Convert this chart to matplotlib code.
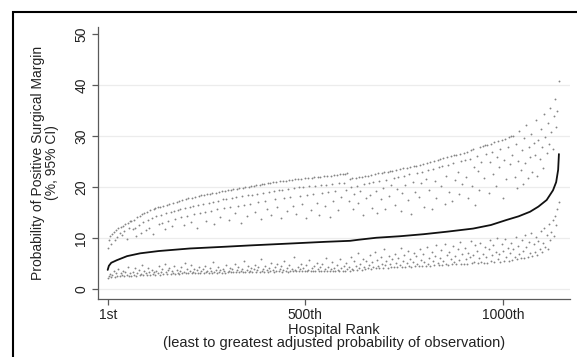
import numpy as np
import matplotlib
matplotlib.use("Agg")
import matplotlib.pyplot as plt
from matplotlib.patches import Rectangle

plt.rcParams["font.family"] = ["Liberation Sans", "DejaVu Sans"]

# Adjusted probability (%) for each hospital, by rank (line through the point estimates)
est_rank = [1, 4, 10, 24, 50, 83, 130, 209, 300, 361, 470, 550, 614, 634, 680, 740,
            800, 860, 925, 970, 1010, 1040, 1069, 1090, 1111, 1127, 1135, 1140, 1142]
est_value = [3.8, 4.6, 5.2, 5.7, 6.5, 7.05, 7.5, 8.0, 8.35, 8.6, 9.0, 9.3, 9.5, 9.7, 10.1, 10.4,
             10.8, 11.3, 11.9, 12.6, 13.6, 14.3, 15.2, 16.2, 17.5, 19.4, 21.0, 23.4, 26.5]

# Hospitals shown with their 95% CI bounds (every third rank)
ci_rank = list(range(1, 1142, 3))

ci_upper = [
    8.0, 9.6, 10.4, 8.9, 10.9, 11.3, 9.7, 11.6, 10.2, 12.0, 11.1, 12.3, 10.6, 12.4, 11.5, 12.8, 9.8, 13.0, 12.0, 13.3,
    13.4, 11.9, 13.6, 12.1, 10.5, 14.1, 12.6, 14.4, 11.0, 14.7, 13.1, 14.9, 11.6, 15.1, 13.6, 12.0, 15.5, 14.0, 10.9, 15.8,
    15.9, 14.3, 16.1, 12.8, 16.2, 14.6, 13.0, 16.4, 11.9, 14.9, 16.6, 13.3, 16.8, 15.2, 12.4, 17.0, 15.4, 13.7, 17.2, 15.6,
    17.3, 15.7, 14.1, 17.5, 12.6, 15.9, 17.6, 14.4, 17.8, 16.1, 13.2, 17.9, 16.3, 14.7, 18.1, 12.1, 16.5, 18.2, 14.9, 18.4,
    16.8, 18.5, 15.2, 13.4, 18.6, 17.0, 18.7, 15.4, 18.8, 17.2, 12.8, 18.9, 15.7, 17.4, 19.1, 14.1, 19.2, 17.6, 16.0, 19.3,
    17.7, 19.4, 13.6, 16.2, 19.5, 17.9, 19.6, 15.0, 18.0, 19.7, 16.4, 19.8, 12.9, 18.2, 19.9, 16.6, 20.0, 14.3, 18.4, 20.1,
    16.8, 20.2, 18.5, 20.3, 15.2, 20.4, 18.7, 17.1, 20.5, 13.8, 20.6, 18.9, 20.7, 17.3, 15.8, 20.8, 19.1, 20.9, 14.5, 21.0,
    19.3, 17.6, 21.1, 16.1, 19.4, 21.2, 13.9, 19.5, 21.3, 17.8, 21.3, 15.3, 19.7, 21.4, 18.0, 21.5, 16.4, 19.8, 21.6, 14.8,
    21.7, 20.0, 18.2, 21.7, 16.7, 20.1, 21.8, 13.9, 18.4, 21.9, 20.2, 15.6, 21.9, 18.6, 22.0, 20.3, 17.0, 22.0, 14.6, 22.1,
    20.4, 18.8, 22.2, 16.3, 20.5, 22.2, 19.0, 14.2, 22.3, 20.6, 17.3, 22.4, 19.2, 22.4, 15.5, 20.8, 22.5, 18.1, 22.6, 20.9,
    22.6, 19.5, 22.7, 17.4, 21.7, 20.1, 21.8, 15.8, 18.6, 21.9, 20.3, 16.9, 22.0, 19.2, 22.1, 14.6, 20.6, 22.2, 17.8, 22.3,
    20.8, 18.4, 22.4, 16.0, 21.0, 22.6, 19.3, 14.9, 22.7, 21.2, 17.6, 22.8, 19.9, 22.9, 15.7, 21.5, 23.0, 18.2, 23.1, 20.5,
    23.2, 21.8, 16.6, 23.4, 19.7, 22.0, 23.5, 15.3, 18.9, 23.7, 22.3, 20.4, 23.8, 17.5, 22.5, 24.0, 14.8, 21.1, 24.1, 19.0,
    24.2, 22.8, 18.0, 24.4, 20.9, 23.0, 24.6, 16.2, 21.6, 24.8, 23.3, 19.4, 25.0, 15.7, 23.6, 25.1, 21.3, 17.9, 25.3, 23.9,
    25.5, 20.2, 24.1, 25.7, 16.8, 22.3, 25.9, 24.4, 19.0, 26.1, 17.4, 24.7, 26.3, 21.5, 26.4, 23.0, 18.6, 26.6, 25.1, 20.7,
    26.8, 25.3, 22.1, 27.0, 17.9, 25.6, 27.3, 20.3, 27.5, 24.0, 16.6, 26.2, 23.1, 19.4, 27.9, 25.0, 28.0, 21.8, 28.2, 26.6,
    28.3, 18.8, 24.9, 28.5, 27.0, 22.6, 28.8, 20.2, 26.0, 29.0, 23.9, 27.5, 29.2, 17.9, 25.4, 29.5, 21.7, 27.9, 29.8, 24.5,
    30.0, 26.3, 30.1, 22.0, 28.4, 19.8, 25.1, 31.0, 23.4, 27.3, 20.6, 29.6, 24.8, 32.2, 21.9, 27.8, 25.9, 30.4, 23.0, 28.7,
    26.4, 33.1, 22.3, 29.3, 25.6, 31.5, 27.9, 23.8, 34.4, 29.9, 26.7, 32.6, 28.4, 35.6, 30.8, 27.4, 33.9, 37.3, 31.8, 35.0,
    40.8,
]

ci_lower = [
    2.2, 2.6, 3.0, 2.4, 2.9, 3.5, 2.5, 3.1, 2.7, 4.0, 2.6, 3.2, 2.9, 3.6, 2.6, 3.3, 2.8, 4.4, 2.7, 3.1,
    2.7, 3.4, 2.9, 4.1, 2.7, 3.2, 3.7, 2.8, 3.0, 4.8, 2.8, 3.5, 3.1, 2.8, 4.2, 3.3, 2.9, 3.8, 3.0, 3.4,
    2.9, 3.6, 3.1, 4.5, 2.9, 3.3, 3.9, 3.0, 5.0, 3.4, 3.0, 3.7, 4.2, 3.0, 3.5, 3.1, 4.6, 3.0, 3.8, 3.2,
    3.0, 3.6, 4.3, 3.1, 3.4, 5.1, 3.1, 3.9, 3.2, 3.6, 4.7, 3.1, 3.4, 4.0, 3.1, 3.7, 3.2, 4.4, 3.1, 3.5,
    3.9, 3.2, 4.6, 3.3, 3.6, 3.2, 4.2, 3.5, 3.2, 5.3, 3.4, 3.8, 3.2, 4.4, 3.3, 3.7, 3.2, 4.0, 3.5, 3.2,
    4.7, 3.3, 3.6, 4.1, 3.3, 3.9, 3.4, 5.0, 3.3, 3.7, 4.3, 3.3, 3.5, 4.0, 3.4, 5.6, 3.3, 3.8, 4.5, 3.4,
    3.6, 4.2, 3.4, 3.9, 4.8, 3.4, 3.7, 4.4, 3.4, 6.0, 3.5, 4.0, 3.4, 4.6, 3.7, 3.4, 4.2, 3.5, 5.2, 3.8,
    3.4, 4.3, 3.6, 4.9, 3.5, 3.9, 4.5, 3.4, 3.7, 5.5, 3.5, 4.1, 3.4, 4.7, 3.6, 4.0, 3.5, 6.3, 3.8, 3.5,
    4.4, 3.5, 3.9, 5.0, 3.5, 4.2, 3.6, 4.8, 3.5, 3.8, 5.7, 3.5, 4.1, 3.6, 4.5, 3.5, 5.2, 3.9, 3.5, 4.3,
    3.6, 4.9, 3.5, 4.0, 6.1, 3.6, 4.4, 3.5, 3.9, 5.4, 3.6, 4.2, 3.5, 4.7, 3.8, 3.6, 5.9, 4.1, 3.6, 4.5,
    3.6, 5.1, 3.9, 4.3, 3.6, 6.4, 4.0, 3.7, 5.5, 4.6, 3.8, 7.1, 4.2, 5.0, 3.8, 6.0, 4.4, 3.9, 5.6, 4.1,
    4.8, 6.7, 4.0, 5.3, 4.4, 7.4, 4.1, 5.8, 4.6, 4.1, 6.3, 5.0, 4.2, 7.8, 4.7, 5.5, 4.2, 6.6, 4.9, 4.3,
    5.9, 4.3, 7.0, 5.2, 4.3, 6.2, 4.8, 8.0, 4.4, 5.6, 6.8, 4.4, 5.1, 7.5, 4.6, 6.0, 4.4, 5.4, 7.2, 4.5,
    6.5, 5.0, 4.5, 7.9, 5.7, 4.6, 6.9, 5.3, 4.6, 8.3, 5.0, 6.1, 4.6, 7.3, 5.5, 4.7, 6.6, 8.6, 5.2, 4.7,
    6.2, 7.7, 4.8, 5.6, 8.9, 5.0, 6.8, 4.8, 7.4, 5.9, 4.9, 8.4, 5.4, 6.5, 4.9, 7.8, 5.7, 9.2, 5.0, 6.9,
    4.9, 8.1, 5.9, 5.0, 7.2, 6.4, 9.5, 5.1, 6.8, 5.3, 8.6, 7.6, 5.1, 6.1, 9.0, 5.4, 7.0, 5.2, 8.3, 6.3,
    5.2, 7.8, 9.6, 5.6, 6.7, 8.6, 5.3, 7.3, 10.0, 5.9, 6.9, 5.4, 8.9, 7.5, 5.6, 9.8, 6.3, 8.1, 5.6, 7.1,
    9.1, 5.8, 7.8, 6.4, 10.3, 5.9, 8.5, 7.0, 6.1, 9.6, 7.6, 6.2, 10.7, 8.2, 6.4, 9.2, 7.1, 11.0, 6.6, 8.8,
    7.4, 10.2, 6.8, 9.5, 7.9, 11.4, 7.3, 9.0, 12.1, 8.2, 10.6, 7.9, 12.8, 9.6, 11.2, 13.5, 10.4, 14.3, 12.6, 15.8,
    17.2,
]

# Axis ticks
x_ticks = [1, 500, 1000]
x_tick_labels = ["1st", "500th", "1000th"]
y_ticks = [0, 10, 20, 30, 40, 50]

W, H = 577, 357
fig = plt.figure(figsize=(W / 100, H / 100), dpi=100)
fig.patch.set_facecolor("white")

# Plot region in pixel coordinates
left_px, right_px, top_px, bottom_px = 98, 570, 27, 299
ax = fig.add_axes([left_px / W, 1 - bottom_px / H,
                   (right_px - left_px) / W, (bottom_px - top_px) / H])

ax.set_xlim(-23.5, 1170)
ax.set_ylim(-1.9, 51.4)

# Light horizontal grid
for yv in y_ticks[:-1]:
    ax.axhline(yv, color="#ececec", lw=0.9, zorder=0)

# CI bounds as fine grey dots
ax.scatter(ci_rank, ci_upper, s=1.8, color="#858585", linewidths=0, zorder=2)
ax.scatter(ci_rank, ci_lower, s=1.8, color="#858585", linewidths=0, zorder=2)

# Point estimates
ax.plot(est_rank, est_value, color="#111111", lw=1.3, solid_capstyle="round", zorder=3)

# Axes styling
for side in ("top", "right"):
    ax.spines[side].set_visible(False)
for side in ("left", "bottom"):
    ax.spines[side].set_color("#5a5a5a")
    ax.spines[side].set_linewidth(0.9)

ax.set_xticks(x_ticks)
ax.set_xticklabels(x_tick_labels)
ax.set_yticks(y_ticks)
ax.set_yticklabels([str(v) for v in y_ticks], rotation=90, va="center")
ax.tick_params(axis="both", colors="#5a5a5a", labelcolor="#222222",
               length=4, width=0.9, labelsize=10)
ax.tick_params(axis="x", pad=2.5)
ax.tick_params(axis="y", pad=3)

# Axis titles
fig.text(334 / W, 1 - 330 / H, "Hospital Rank", ha="center", va="center",
         fontsize=10.5, color="#222222")
fig.text(334 / W, 1 - 342.5 / H,
         "(least to greatest adjusted probability of observation)",
         ha="center", va="center", fontsize=10.5, color="#222222")
fig.text(38 / W, 1 - 163 / H, "Probability of Positive Surgical Margin",
         ha="center", va="center", rotation=90, fontsize=10, color="#222222")
fig.text(52 / W, 1 - 163 / H, "(%, 95% CI)",
         ha="center", va="center", rotation=90, fontsize=10, color="#222222")

# Outer frame
fig.add_artist(Rectangle((12.7 / W, -0.2), 1.2, 1 - 12.3 / H + 0.2,
                         transform=fig.transFigure, fill=False,
                         edgecolor="black", lw=1.5, clip_on=False))

fig.savefig("out.png", dpi=100)
